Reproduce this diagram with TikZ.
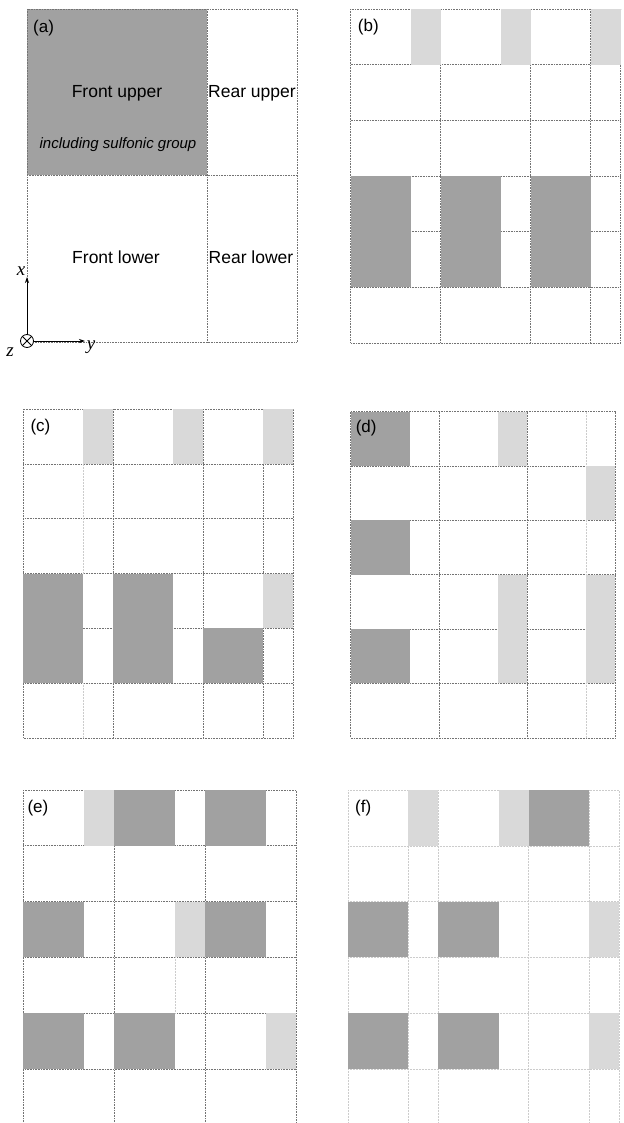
\documentclass[tikz,border=0pt]{standalone}
\usepackage{fontspec}
\setmainfont{Liberation Sans}
\newfontfamily\axisfont{Liberation Serif}
\usetikzlibrary{arrows.meta}

\definecolor{darkfill}{gray}{0.63}
\definecolor{lightfill}{gray}{0.85}
\definecolor{gridgray}{gray}{0.45}

\tikzset{
  gridline/.style={gridgray, line width=0.6pt, densely dotted},
  faintline/.style={gray!40, line width=0.5pt, densely dotted},
  darkcell/.style={fill=darkfill},
  lightcell/.style={fill=lightfill},
  tag/.style={anchor=north west, inner sep=0pt, font=\fontsize{17}{20}\selectfont},
  region/.style={font=\fontsize{17.5}{20}\selectfont},
  axislabel/.style={font=\axisfont\itshape\fontsize{19}{20}\selectfont},
}
% one unit = 90 wide (front 60, rear 30), one row = 55.5 high
\newcommand{\frontcell}[3]{\fill[#3] ({(#1-1)*90},{(#2-1)*55.5}) rectangle ++(60,55.5);}
\newcommand{\rearcell}[3]{\fill[#3] ({(#1-1)*90+60},{(#2-1)*55.5}) rectangle ++(30,55.5);}
\newcommand{\cellgrid}[1]{%
  \draw[#1] (0,0) rectangle (270,333);
  \foreach \r in {1,...,5} \draw[#1] (0,{\r*55.5}) -- (270,{\r*55.5});
  \foreach \c in {90,180} \draw[#1] (\c,0) -- (\c,333);}

\begin{document}
\begin{tikzpicture}[x=1pt,y=-1pt]
    \useasboundingbox (0,0) rectangle (623,1123);
    \clip (0,0) rectangle (623,1123);
    % (a) the four regions
    \begin{scope}[shift={(27,9)}]
        \fill[darkfill] (0,0) rectangle (180,166.5);
        \draw[gridline] (0,0) rectangle (270,333);
        \draw[gridline] (0,166.5) -- (270,166.5);
        \draw[gridline] (180,0) -- (180,333);
        \node[tag] (taga) at (6,11) {(a)};
        \node[region] (fu) at (90,84) {Front upper};
        \node[region,font=\itshape\fontsize{15}{18}\selectfont] (sulf) at (91,136) {including sulfonic group};
        \node[region] (ru) at (225,84) {Rear upper};
        \node[region] (fl) at (89,248) {Front lower};
        \node[region] (rl) at (224,248) {Rear lower};
        % axes
        \node[circle,draw,fill=white,line width=0.8pt,inner sep=0pt,minimum size=13pt] (orig) at (0,332) {};
        \draw[line width=0.8pt] (orig.north west) -- (orig.south east);
        \draw[line width=0.8pt] (orig.north east) -- (orig.south west);
        \coordinate (xend) at (0,268);
        \coordinate (yend) at (58,332);
        \draw[line width=0.8pt,-{Stealth[length=6pt,width=4pt]}] (orig.north) -- (xend);
        \draw[line width=0.8pt,-{Stealth[length=6pt,width=4pt]}] (orig.east) -- (yend);
        \node[axislabel] (xlab) at (-6,262) {x};
        \node[axislabel] (ylab) at (64,338) {y};
        \node[axislabel] (zlab) at (-17,343) {z};
    \end{scope}
    % (b)
    \begin{scope}[shift={(350.7,9)},yscale=1.003]
        \cellgrid{gridline}
        \draw[gridline] (240,0) -- (240,333);
        \foreach \c/\r in {1/1,2/1,3/1} {\rearcell{\c}{\r}{lightcell}}
        \foreach \c/\r in {1/4,1/5,2/4,2/5,3/4,3/5} {\frontcell{\c}{\r}{darkcell}}
        \node[tag] (tagb) at (7,10) {(b)};
    \end{scope}
    % (c)
    \begin{scope}[shift={(23.3,409)},yscale=0.988]
        \cellgrid{gridline}
        \draw[gridline] (240,0) -- (240,333);
        \draw[faintline] (60,55.5) -- (60,166.5);
        \draw[faintline] (60,277.5) -- (60,333);
        \foreach \c/\r in {1/1,2/1,3/1,3/4} {\rearcell{\c}{\r}{lightcell}}
        \foreach \c/\r in {1/4,1/5,2/4,2/5,3/5} {\frontcell{\c}{\r}{darkcell}}
        \node[tag] (tagc) at (7,10) {(c)};
    \end{scope}
    % (d)
    \begin{scope}[shift={(350.7,411.5)},xscale=0.98,yscale=0.98]
        \cellgrid{gridline}
        \draw[faintline] (240,0) -- (240,333);
        \foreach \c/\r in {2/1,3/2,2/4,3/4,2/5,3/5} {\rearcell{\c}{\r}{lightcell}}
        \foreach \c/\r in {1/1,1/3,1/5} {\frontcell{\c}{\r}{darkcell}}
        \node[tag] (tagd) at (5,9) {(d)};
    \end{scope}
    % (e)
    \begin{scope}[shift={(23.3,790)},xscale=1.01,yscale=1.005]
        \cellgrid{gridline}
        \draw[faintline] (150,111) -- (150,222);
        \foreach \c/\r in {1/1,2/3,3/5} {\rearcell{\c}{\r}{lightcell}}
        \foreach \c/\r in {2/1,3/1,1/3,3/3,1/5,2/5} {\frontcell{\c}{\r}{darkcell}}
        \node[tag] (tage) at (4,10) {(e)};
    \end{scope}
    % (f) lines only faintly printed
    \begin{scope}[shift={(348,790)},xscale=1.004,yscale=1.005]
        \cellgrid{faintline}
        \draw[faintline] (60,0) -- (60,333);
        \draw[faintline] (240,0) -- (240,333);
        \foreach \c/\r in {1/1,2/1,3/3,3/5} {\rearcell{\c}{\r}{lightcell}}
        \foreach \c/\r in {3/1,1/3,2/3,1/5,2/5} {\frontcell{\c}{\r}{darkcell}}
        \node[tag] (tagf) at (7,10) {(f)};
    \end{scope}
\end{tikzpicture}
\end{document}
